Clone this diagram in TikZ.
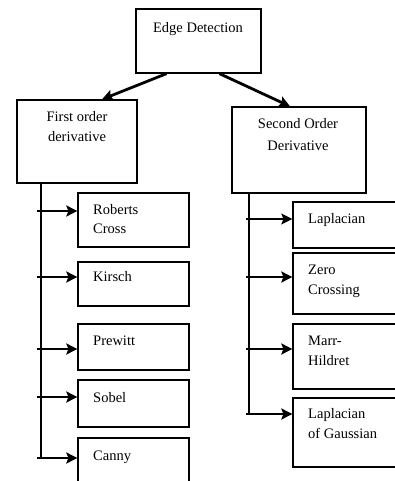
\documentclass[tikz,border=0pt]{standalone}
\usepackage{fontspec}
\setmainfont{Liberation Serif}
\usetikzlibrary{arrows.meta}
\begin{document}
\begin{tikzpicture}[x=1pt,y=-1pt,
  box/.style={draw=black,line width=1.3pt,fill=white,inner sep=0pt},
  txt/.style={inner sep=0pt,font=\fontsize{14.5}{20}\selectfont,align=left},
  ctxt/.style={inner sep=0pt,font=\fontsize{14.5}{20}\selectfont,align=center},
  arr/.style={line width=2.8pt,-{Stealth[length=11pt,width=11pt,inset=2pt]}},
  trunk/.style={line width=1.5pt}]
\useasboundingbox (0,0) rectangle (395,481);
\clip (0,0) rectangle (395,481);
% top level
\node[box,minimum width=125pt,minimum height=64pt] (edge) at (198.5,41) {};
\node[ctxt,anchor=base] (edgeT) at (198,33) {Edge Detection};
\node[box,minimum width=120pt,minimum height=83pt] (first) at (77,141.5) {};
\node[ctxt,anchor=base] (firstT) at (77,142) {First order\\derivative};
\node[box,minimum width=134pt,minimum height=86pt] (second) at (299,150) {};
\node[ctxt,anchor=base] (secondT) at (298,150) {Second Order\\[2pt]Derivative};
\draw[arr] ([xshift=-32pt]edge.south) -- ([xshift=25pt]first.north);
\draw[arr] ([xshift=21pt]edge.south) -- ([xshift=-9pt]second.north);
% left children
\node[box,minimum width=111pt,minimum height=54pt] (rob) at (133.5,220) {};
\node[txt,anchor=base west] (robT) at (93,233) {Roberts\\[-1pt]Cross};
\node[box,minimum width=111pt,minimum height=44pt] (kir) at (133.5,284) {};
\node[txt,anchor=base west] (kirT) at (93,281) {Kirsch};
\node[box,minimum width=111pt,minimum height=46pt] (pre) at (133.5,347) {};
\node[txt,anchor=base west] (preT) at (93,345) {Prewitt};
\node[box,minimum width=111pt,minimum height=47pt] (sob) at (133.5,403.5) {};
\node[txt,anchor=base west] (sobT) at (93,402) {Sobel};
\node[box,minimum width=111pt,minimum height=44pt] (can) at (133.5,460) {};
\node[txt,anchor=base west] (canT) at (93,460) {Canny};
\coordinate (lt0) at (41,183);
\coordinate (lt1) at (37,211);
\coordinate (lt2) at (37,277);
\coordinate (lt3) at (37,349);
\coordinate (lt4) at (37,397);
\coordinate (lt5) at (37,458);
\draw[trunk] (lt0) -- (41,458);
\draw[arr] (lt1) -- (lt1 -| rob.west);
\draw[arr] (lt2) -- (lt2 -| kir.west);
\draw[arr] (lt3) -- (lt3 -| pre.west);
\draw[arr] (lt4) -- (lt4 -| sob.west);
\draw[arr] (lt5) -- (lt5 -| can.west);
% right children
\node[box,minimum width=107pt,minimum height=46pt] (lap) at (346.5,225) {};
\node[txt,anchor=base west] (lapT) at (308,223) {Laplacian};
\node[box,minimum width=107pt,minimum height=61pt] (zer) at (346.5,283.5) {};
\node[txt,anchor=base west] (zerT) at (308,294) {Zero\\Crossing};
\node[box,minimum width=107pt,minimum height=65pt] (mar) at (346.5,356.5) {};
\node[txt,anchor=base west] (marT) at (308,365) {Marr-\\Hildret};
\node[box,minimum width=107pt,minimum height=69pt] (log) at (346.5,432.5) {};
\node[txt,anchor=base west] (logT) at (308,438) {Laplacian\\of Gaussian};
\coordinate (rt0) at (249,193);
\coordinate (rt1) at (246,219);
\coordinate (rt2) at (246,277);
\coordinate (rt3) at (246,349);
\coordinate (rt4) at (246,414);
\draw[trunk] (rt0) -- (249,415);
\draw[line width=1.5pt,-{Stealth[length=11pt,width=11pt,inset=2pt]}] (rt1) -- (rt1 -| lap.west);
\draw[arr] (rt2) -- (rt2 -| zer.west);
\draw[arr] (rt3) -- (rt3 -| mar.west);
\draw[arr] (rt4) -- (rt4 -| log.west);
\end{tikzpicture}
\end{document}
